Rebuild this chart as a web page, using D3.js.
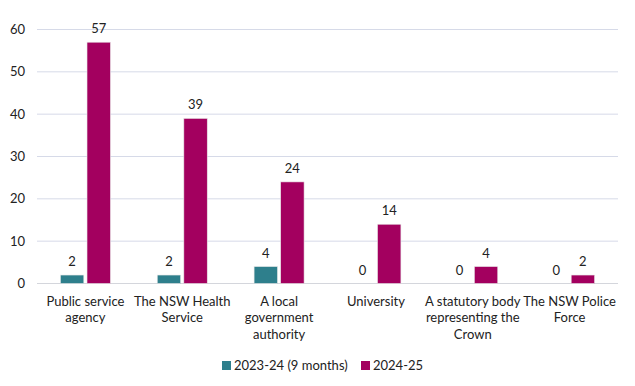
<!DOCTYPE html>
<html>
<head>
<meta charset="utf-8">
<script src="https://cdn.jsdelivr.net/npm/d3@7"></script>
<style>
  body { margin: 0; background: #fff; }
  svg { display: block; font-family: Lato, "Open Sans", sans-serif; }
</style>
</head>
<body>
<svg width="635" height="386"></svg>
<script>
// chart data
const categories = ["Public service\nagency", "The NSW Health\nService", "A local\ngovernment\nauthority",
  "University", "A statutory body\nrepresenting the\nCrown", "The NSW Police\nForce"];
const seriesNames = ["2023-24 (9 months)", "2024-25"];
const values2324 = [2, 2, 4, 0, 0, 0];
const values2425 = [57, 39, 24, 14, 4, 2];
const yTicks = [0, 10, 20, 30, 40, 50, 60];
const colors = ["#2e7f8c", "#a3005f"];

const svg = d3.select("svg");
const margin = {left: 37, right: 17, top: 29.5, bottom: 102.5};
const width = 635, height = 386;

const x = d3.scaleBand().domain(d3.range(categories.length))
  .range([margin.left, width - margin.right]);
const xInner = d3.scaleBand().domain([0, 1]).range([0, 50]).paddingInner(0.12);
const y = d3.scaleLinear().domain([0, 60]).range([height - margin.bottom, margin.top]);

// gridlines
svg.append("g").selectAll("line").data(yTicks).enter().append("line")
  .attr("x1", margin.left).attr("x2", width - margin.right)
  .attr("y1", d => y(d)).attr("y2", d => y(d))
  .attr("stroke", d => d === 0 ? "#d4d6dc" : "#d6dae8").attr("stroke-width", 1);

// y axis labels
svg.append("g").selectAll("text").data(yTicks).enter().append("text")
  .attr("x", 25).attr("y", d => y(d)).attr("dy", "0.35em")
  .attr("text-anchor", "end").attr("font-size", 13).attr("fill", "#222")
  .text(d => d);

const series = [values2324, values2425];
series.forEach((vals, s) => {
  const g = svg.append("g");
  g.selectAll("rect").data(vals).enter().append("rect")
    .attr("x", (d, i) => x(i) + x.bandwidth() / 2 - 25 + xInner(s))
    .attr("y", d => y(d))
    .attr("width", xInner.bandwidth())
    .attr("height", d => y(0) - y(d))
    .attr("fill", colors[s])
    .attr("stroke", "#e8e8e8").attr("stroke-width", 0.6);
  g.selectAll("text").data(vals).enter().append("text")
    .attr("x", (d, i) => x(i) + x.bandwidth() / 2 - 25 + xInner(s) + xInner.bandwidth() / 2)
    .attr("y", d => y(d) - 9)
    .attr("text-anchor", "middle").attr("font-size", 13).attr("fill", "#222")
    .text(d => d);
});

// category labels
const cl = svg.append("g").selectAll("text").data(categories).enter().append("text")
  .attr("x", (d, i) => x(i) + x.bandwidth() / 2)
  .attr("y", 306)
  .attr("text-anchor", "middle").attr("font-size", 13).attr("fill", "#222");
cl.each(function(d) {
  const t = d3.select(this);
  d.split("\n").forEach((line, k) => {
    t.append("tspan").attr("x", t.attr("x")).attr("dy", k === 0 ? 0 : 16.3).text(line);
  });
});

// legend
const legendX = [222, 361];
const lg = svg.append("g").selectAll("g").data(seriesNames).enter().append("g")
  .attr("transform", (d, i) => `translate(${legendX[i]},361)`);
lg.append("rect").attr("width", 9).attr("height", 9).attr("fill", (d, i) => colors[i]);
lg.append("text").attr("x", 12).attr("y", 4.5).attr("dy", "0.35em")
  .attr("font-size", 13).attr("fill", "#222").text(d => d);
</script>
</body>
</html>
